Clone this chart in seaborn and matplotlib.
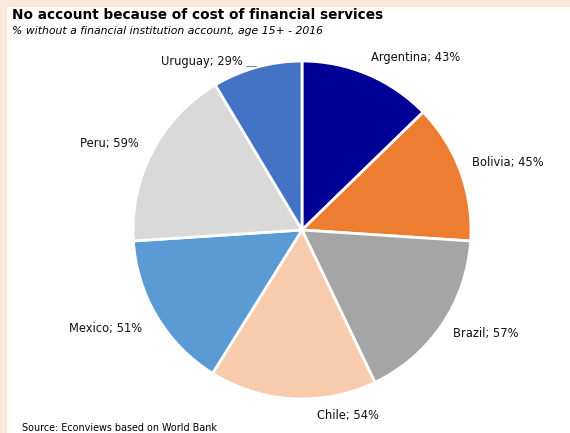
import matplotlib
matplotlib.use("Agg")
import matplotlib.pyplot as plt
import seaborn as sns
from matplotlib.patches import Rectangle

sns.set_theme(style="white")
plt.rcParams["font.family"] = ["DejaVu Sans"]

countries = ["Argentina", "Bolivia", "Brazil", "Chile", "Mexico", "Peru", "Uruguay"]
shares = [43, 45, 57, 54, 51, 59, 29]
colors = ["#000096", "#ED7D31", "#A5A5A5", "#F8CBAD", "#5B9BD5", "#D9D9D9", "#4472C4"]

# label anchor points (pie data units, radius = 1)
label_xy = [(0.67, 1.02), (1.22, 0.40), (1.09, -0.61), (0.27, -1.10),
            (-1.16, -0.58), (-1.14, 0.51), (-0.59, 1.0)]

W, H = 570, 433
fig = plt.figure(figsize=(W / 100, H / 100), dpi=100)
fig.patch.set_facecolor("white")

# peach frame strips along the top and left edges
border = "#FCE9DA"
fig.patches.append(Rectangle((0, 1 - 7 / H), 1, 7 / H, transform=fig.transFigure,
                             facecolor=border, edgecolor="none", zorder=0))
fig.patches.append(Rectangle((0, 0), 7 / W, 1, transform=fig.transFigure,
                             facecolor=border, edgecolor="none", zorder=0))

cx, cy, r = 302, 230, 169
ax = fig.add_axes([(cx - r) / W, (H - cy - r) / H, 2 * r / W, 2 * r / H])
ax.pie(shares, colors=colors, startangle=90, counterclock=False, radius=1,
       wedgeprops=dict(edgecolor="white", linewidth=2))
ax.set_xlim(-1, 1)
ax.set_ylim(-1, 1)
ax.set_aspect("equal")
ax.axis("off")

for name, val, (lx, ly) in zip(countries, shares, label_xy):
    ax.text(lx, ly, f"{name}; {val}%", ha="center", va="center",
            fontsize=8.3, color="#111111", clip_on=False)

# short leader line for the Uruguay label
ax.plot([-0.33, -0.27], [0.97, 0.97], color="#888888", lw=0.8, clip_on=False)

fig.text(12 / W, 1 - 15 / H, "No account because of cost of financial services",
         fontsize=9.8, fontweight="bold", color="black", va="center", ha="left")
fig.text(12 / W, 1 - 31 / H,
         "% without a financial institution account, age 15+ - 2016",
         fontsize=7.8, style="italic", color="black", va="center", ha="left")
fig.text(22 / W, 1 - 428 / H, "Source: Econviews based on World Bank",
         fontsize=6.9, color="black", va="center", ha="left")

fig.savefig("out.png", dpi=100)
